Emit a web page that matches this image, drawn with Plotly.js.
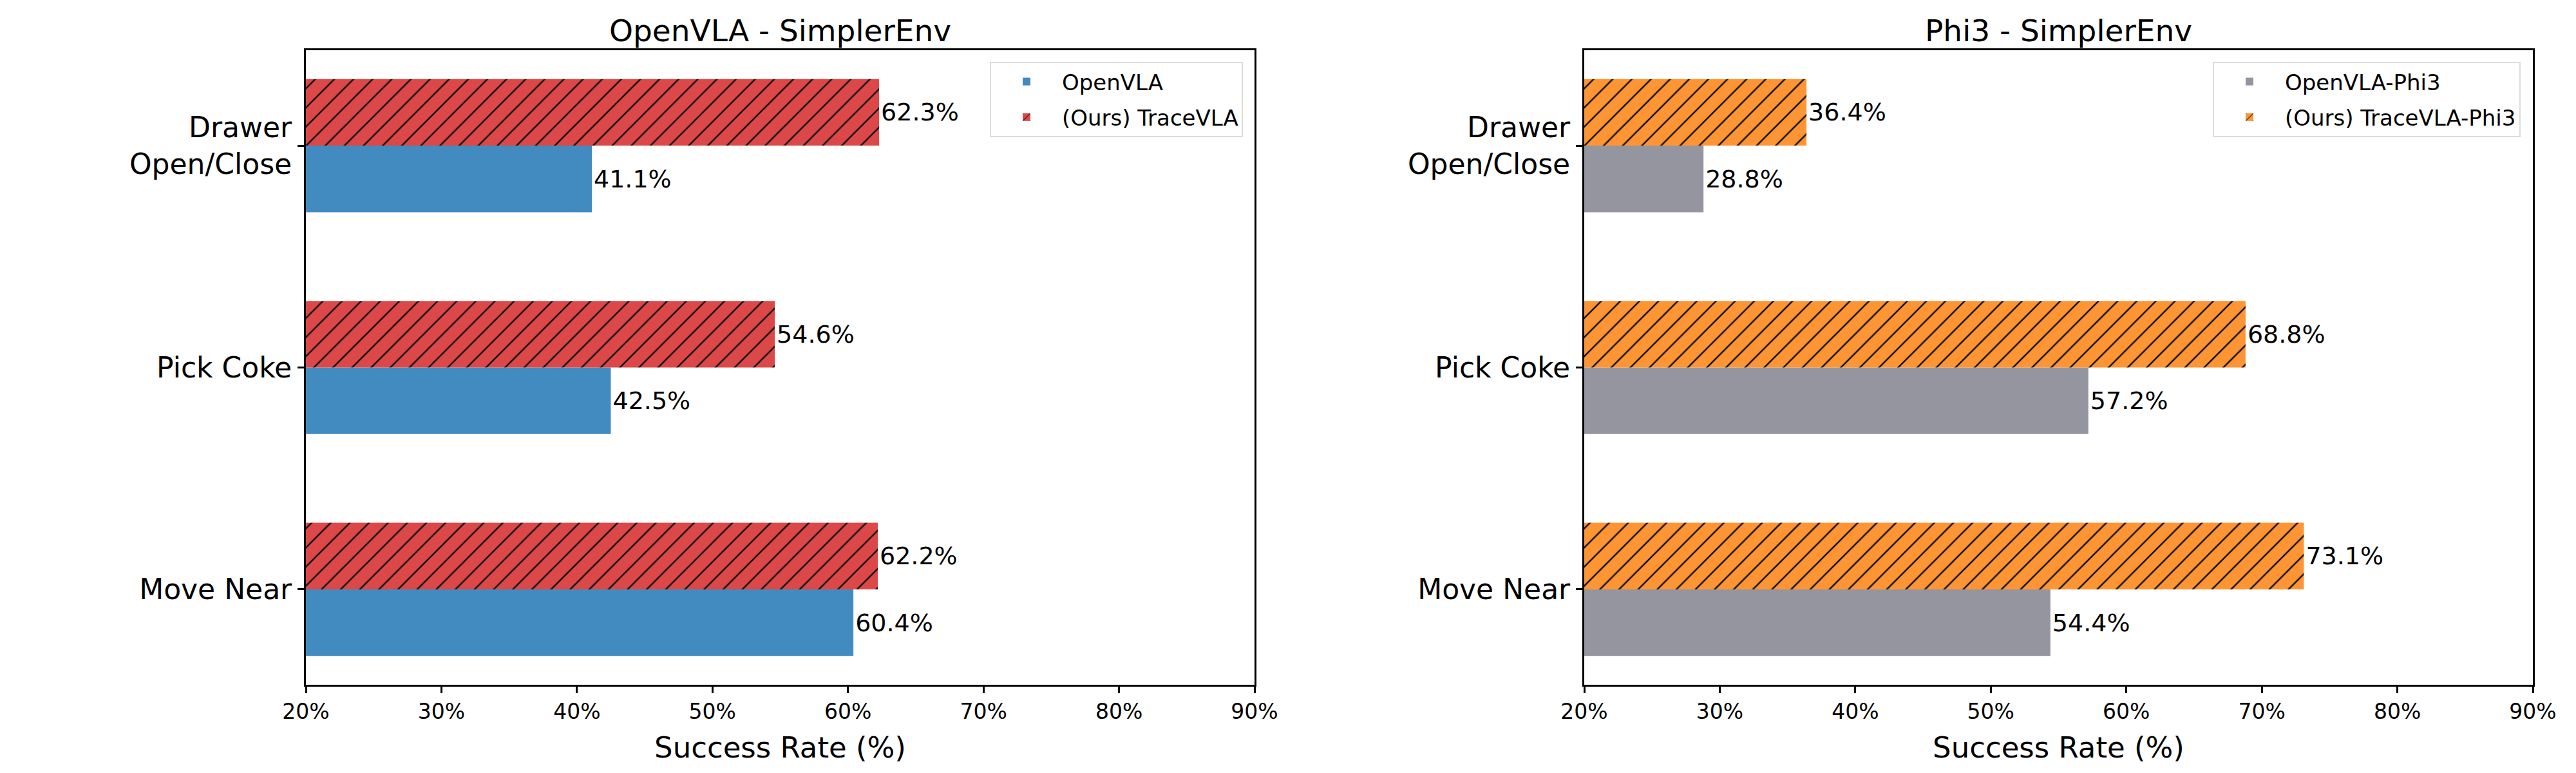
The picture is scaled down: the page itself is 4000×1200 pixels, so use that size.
<!DOCTYPE html>
<html>
<head>
<meta charset="utf-8">
<script src="https://cdn.plot.ly/plotly-3.0.1.min.js"></script>
<style>
  html, body { margin: 0; padding: 0; background: #fff; }
  #chart { width: 4000px; height: 1200px; }
</style>
</head>
<body>
<div id="chart"></div>
<script>
// tasks, bottom to top as drawn
const tasks = ['Move Near', 'Pick Coke', 'Drawer<br>Open/Close'];

// OpenVLA - SimplerEnv
const openvla = [60.4, 42.5, 41.1];
const tracevla = [62.2, 54.6, 62.3];

// Phi3 - SimplerEnv
const openvlaPhi3 = [54.4, 57.2, 28.8];
const tracevlaPhi3 = [73.1, 68.8, 36.4];

const xTicks = [20, 30, 40, 50, 60, 70, 80, 90];
const xTickText = ['20%', '30%', '40%', '50%', '60%', '70%', '80%', '90%'];

const FONT = 'DejaVu Sans, sans-serif';
const BLUE = '#418bc0';
const RED = '#dc4848';
const GREY = '#9595a0';
const ORANGE = '#fd9535';

const pct = arr => arr.map(v => v.toFixed(1) + '%');

function plainBar(vals, name, color, xa, ya, legend) {
    return {
        type: 'bar', orientation: 'h',
        x: vals, y: tasks, name,
        xaxis: xa, yaxis: ya, legend, legendgroup: name,
        marker: { color, line: { width: 0 } },
        text: pct(vals), textposition: 'outside', cliponaxis: false,
        textfont: { family: FONT, size: 38, color: '#000' },
        hoverinfo: 'x'
    };
}

function hatchBar(vals, name, color, xa, ya, legend) {
    const t = plainBar(vals, name, color, xa, ya, legend);
    t.marker.pattern = { shape: '/', fgcolor: '#111', bgcolor: color, size: 21, solidity: 0.12 };
    return t;
}

const traces = [
    plainBar(openvla, 'OpenVLA', BLUE, 'x', 'y', 'legend'),
    hatchBar(tracevla, '(Ours) TraceVLA', RED, 'x', 'y', 'legend'),
    plainBar(openvlaPhi3, 'OpenVLA-Phi3', GREY, 'x2', 'y2', 'legend2'),
    hatchBar(tracevlaPhi3, '(Ours) TraceVLA-Phi3', ORANGE, 'x2', 'y2', 'legend2')
];

const yTop = 1 - 78 / 1200;
const yBot = 1 - 1063 / 1200;

function xAxis(domain, anchor) {
    return {
        domain, anchor, range: [20, 90],
        tickmode: 'array', tickvals: xTicks, ticktext: xTickText,
        ticks: 'outside', ticklen: 10, tickwidth: 3, tickcolor: '#000',
        showline: true, linewidth: 3, linecolor: '#000', mirror: true,
        showgrid: false, zeroline: false,
        tickfont: { family: FONT, size: 33, color: '#000' },
        title: { text: 'Success Rate (%)', font: { family: FONT, size: 45, color: '#000' }, standoff: 22 },
        fixedrange: true
    };
}

function yAxis(anchor) {
    return {
        domain: [yBot, yTop], anchor,
        type: 'category', categoryorder: 'array', categoryarray: tasks,
        range: [-0.43, 2.43],
        ticks: 'outside', ticklen: 10, tickwidth: 3, tickcolor: '#000',
        showline: true, linewidth: 3, linecolor: '#000', mirror: true,
        showgrid: false, zeroline: false,
        tickfont: { family: FONT, size: 44, color: '#000' },
        fixedrange: true
    };
}

function legendBox(xRight) {
    return {
        x: xRight, y: 1 - 96 / 1200, xanchor: 'right', yanchor: 'top',
        xref: 'paper', yref: 'paper',
        bgcolor: 'rgba(255,255,255,0.9)', bordercolor: '#dcdcdc', borderwidth: 2,
        font: { family: FONT, size: 34, color: '#000' },
        itemwidth: 100, traceorder: 'grouped', tracegroupgap: 8
    };
}

const layout = {
    width: 4000, height: 1200,
    margin: { l: 0, r: 0, t: 0, b: 0 },
    paper_bgcolor: '#fff', plot_bgcolor: '#fff',
    barmode: 'group', bargap: 0.4, bargroupgap: 0,
    font: { family: FONT, color: '#000' },
    xaxis: xAxis([475 / 4000, 1948 / 4000], 'y'),
    yaxis: yAxis('x'),
    xaxis2: xAxis([2460 / 4000, 3933 / 4000], 'y2'),
    yaxis2: yAxis('x2'),
    legend: legendBox(1930 / 4000),
    legend2: legendBox(3914 / 4000),
    annotations: [
        { text: 'OpenVLA - SimplerEnv', xref: 'paper', yref: 'paper',
          x: (475 + 1948) / 2 / 4000, y: 1 - 47 / 1200, xanchor: 'center', yanchor: 'middle',
          showarrow: false, font: { family: FONT, size: 47, color: '#000' } },
        { text: 'Phi3 - SimplerEnv', xref: 'paper', yref: 'paper',
          x: (2460 + 3933) / 2 / 4000, y: 1 - 47 / 1200, xanchor: 'center', yanchor: 'middle',
          showarrow: false, font: { family: FONT, size: 47, color: '#000' } }
    ]
};

Plotly.newPlot('chart', traces, layout, { displayModeBar: false, staticPlot: true });
</script>
</body>
</html>
